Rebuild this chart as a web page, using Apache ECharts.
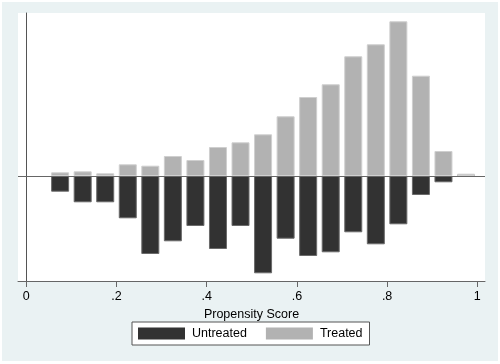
<!DOCTYPE html>
<html>
<head>
<meta charset="utf-8">
<script src="https://cdn.jsdelivr.net/npm/echarts@6/dist/echarts.min.js"></script>
<style>
  body { margin: 0; background: #fff; }
  #bg { position: absolute; left: 2px; top: 2px; width: 496px; height: 359px; background: #eaf2f3; }
  #main { position: absolute; left: 0; top: 0; width: 500px; height: 364px; }
</style>
</head>
<body>
<div id="bg"></div>
<div id="main"></div>
<script>
// bin centres of the propensity score histogram (width .05)
const binCentres = [0.075, 0.125, 0.175, 0.225, 0.275, 0.325, 0.375, 0.425, 0.475, 0.525,
                    0.575, 0.625, 0.675, 0.725, 0.775, 0.825, 0.875, 0.925, 0.975];
// treated drawn above zero, untreated mirrored below
const treated = [0.37, 0.47, 0.27, 1.17, 1.03, 2.0, 1.6, 2.9, 3.37, 4.17,
                 5.97, 7.9, 9.17, 11.97, 13.17, 15.47, 10.03, 2.5, 0.23];
const untreated = [-1.57, -2.63, -2.63, -4.23, -7.8, -6.53, -5.0, -7.3, -5.0, -9.73,
                   -6.27, -8.0, -7.63, -5.63, -6.83, -4.83, -1.9, -0.63, 0];
const xTicks = [0, 0.2, 0.4, 0.6, 0.8, 1];

const chart = echarts.init(document.getElementById('main'));

const toPairs = vals => binCentres.map((x, i) => [x, vals[i]]);
const tickText = v => (v === 0 || v === 1) ? String(v) : String(+v.toFixed(1)).replace('0.', '.');

chart.setOption({
    animation: false,
    textStyle: { fontFamily: 'Liberation Sans, Arial, sans-serif' },
    grid: {
        show: true,
        left: 18, right: 15, top: 13, bottom: 83,
        backgroundColor: '#fff',
        borderWidth: 0
    },
    legend: {
        data: ['Untreated', 'Treated'],
        left: 132, top: 322,
        orient: 'horizontal',
        icon: 'rect',
        itemWidth: 47, itemHeight: 12,
        itemGap: 19,
        padding: [5, 7, 5, 6],
        backgroundColor: '#fff',
        borderColor: '#555',
        borderWidth: 1,
        borderRadius: 0,
        itemStyle: { borderWidth: 0 },
        textStyle: { fontSize: 12.5, color: '#000', lineHeight: 12, padding: [0, 0, 0, 2] }
    },
    xAxis: {
        type: 'value',
        min: -0.0184,
        max: 1.0171,
        name: 'Propensity Score',
        nameLocation: 'middle',
        nameGap: 16,
        nameTextStyle: { fontSize: 12.5, color: '#000', verticalAlign: 'top' },
        axisLine: { show: true, onZero: false, lineStyle: { color: '#666', width: 1 } },
        axisTick: { show: true, length: 6, customValues: xTicks, lineStyle: { color: '#666' } },
        axisLabel: { fontSize: 12.5, color: '#000', margin: 9, customValues: xTicks, formatter: tickText },
        splitLine: { show: false }
    },
    yAxis: {
        type: 'value',
        min: -10.5,
        max: 16.3,
        axisLine: { show: true, lineStyle: { color: '#555', width: 1 } },
        axisTick: { show: false },
        axisLabel: { show: false },
        splitLine: { show: false }
    },
    series: [
        {
            name: 'Untreated',
            type: 'bar',
            stack: 'ps',
            barWidth: 18,
            data: toPairs(untreated),
            itemStyle: { color: '#323232', borderColor: '#6a6a6a', borderWidth: 1 }
        },
        {
            name: 'Treated',
            type: 'bar',
            stack: 'ps',
            barWidth: 18,
            data: toPairs(treated),
            itemStyle: { color: '#b2b2b2', borderColor: '#cfcfcf', borderWidth: 1 },
            markLine: {
                silent: true,
                symbol: 'none',
                label: { show: false },
                lineStyle: { color: '#666', width: 1, type: 'solid' },
                data: [{ yAxis: 0 }]
            }
        }
    ]
});
</script>
</body>
</html>
